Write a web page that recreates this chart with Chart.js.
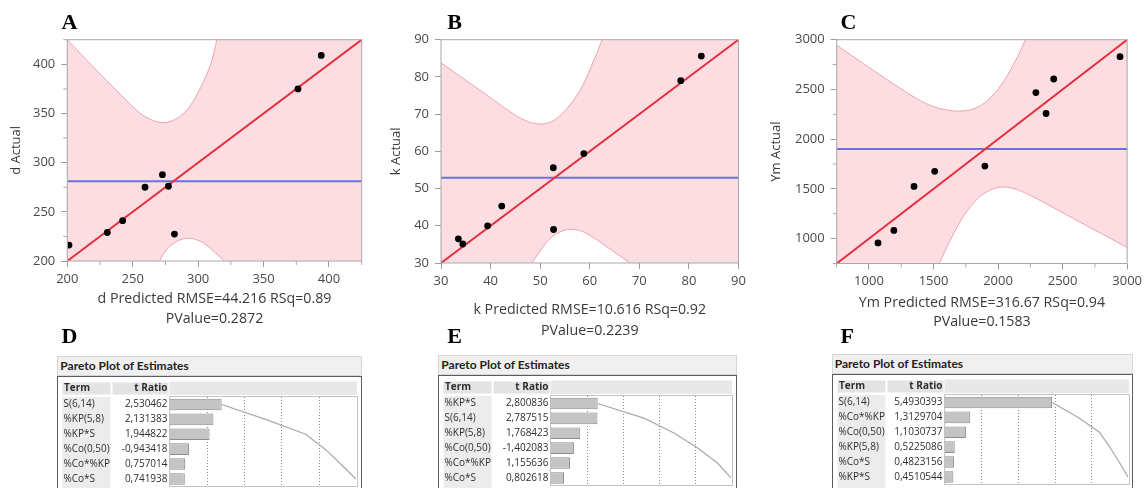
<!DOCTYPE html>
<html>
<head>
<meta charset="utf-8">
<script src="https://cdn.jsdelivr.net/npm/chart.js@4.4.1/dist/chart.umd.min.js"></script>
<style>
  html, body { margin: 0; padding: 0; background: #fff; }
  body { width: 1146px; height: 488px; position: relative; overflow: hidden; font-family: "Open Sans", "Noto Sans", sans-serif; }
  canvas { position: absolute; }
  .letter { position: absolute; font-family: "Liberation Serif", "Times New Roman", serif; font-weight: bold; font-size: 22px; line-height: 22px; color: #000; }
  .phead { position: absolute; box-sizing: border-box; height: 20px; background: #f0f0f0; border: 1px solid #d6d6d6; font-family: Lato, "Open Sans", sans-serif; font-weight: bold; font-size: 12px; line-height: 18px; padding-left: 2px; color: #222; white-space: nowrap; }
  .pbox { position: absolute; box-sizing: border-box; height: 140px; border: 1px solid #5c5c5c; border-bottom: none; }
</style>
</head>
<body>
<script>
// ---------- Actual by predicted: d ----------
const dPredicted = [201.3, 230.6, 242.3, 259.4, 272.7, 277.3, 281.9, 376.3, 394.1];
const dActual    = [216.2, 229.0, 241.0, 275.0, 287.8, 276.0, 227.4, 375.0, 409.0];
const dMean = 281;
const dUpperX = [200, 215, 230, 245, 255, 262, 268, 274, 280, 287, 294, 300, 306, 310.5, 314.3];
const dUpperY = [425, 404, 383.5, 363.5, 351, 345, 341.8, 340.7, 342.5, 348, 358, 371.5, 388, 404, 425];
const dLowerX = [270.5, 274, 279, 285, 292, 299, 306, 313, 320];
const dLowerY = [200, 208, 215.5, 220.8, 223, 221.5, 216.5, 208.5, 200];
const dRange = [200, 425];
const dTicks = [200, 250, 300, 350, 400];
const dMinorTicks = [225, 275, 325, 375, 425];

// ---------- Actual by predicted: k ----------
const kPredicted = [33.5, 34.4, 39.4, 42.25, 52.65, 52.7, 58.8, 78.35, 82.5];
const kActual    = [36.5, 35.1, 40.0, 45.3, 55.6, 39.0, 59.4, 79.0, 85.6];
const kMean = 52.9;
const kUpperX = [30, 35, 40, 44, 47, 49.5, 51.5, 53.5, 56, 58.5, 61, 62.5];
const kUpperY = [83.8, 79.1, 74.4, 70.6, 68.3, 67.4, 67.6, 69.0, 72.5, 77.5, 85.0, 90];
const kLowerX = [48.3, 50, 52, 54.5, 56.5, 59, 63.5, 68.1];
const kLowerY = [30, 33.2, 36.6, 38.6, 39.0, 38.2, 34.3, 30];
const kRange = [30, 90];
const kTicks = [30, 40, 50, 60, 70, 80, 90];
const kMinorTicks = [];

// ---------- Actual by predicted: Ym ----------
const ymPredicted = [1070, 1193, 1349, 1509, 1898, 2293, 2372, 2431, 2945];
const ymActual    = [957, 1083, 1525, 1677, 1729, 2468, 2258, 2605, 2829];
const ymMean = 1902;
const ymUpperX = [750, 864, 990, 1116, 1242, 1368, 1494, 1620, 1721, 1822, 1923, 2024, 2125, 2213];
const ymUpperY = [2945, 2843, 2731, 2620, 2512, 2410, 2330, 2291, 2284, 2311, 2395, 2546, 2764, 3000];
const ymLowerX = [1545, 1600, 1660, 1720, 1780, 1840, 1900, 1960, 2024, 2090, 2160, 2251, 2428, 2629, 2831, 3000];
const ymLowerY = [750, 905, 1060, 1200, 1310, 1400, 1462, 1498, 1517, 1512, 1486, 1434, 1312, 1170, 1030, 910];
const ymRange = [750, 3000];
const ymTicks = [1000, 1500, 2000, 2500, 3000];
const ymMinorTicks = [750, 1250, 1750, 2250, 2750];

// ---------- Pareto plots of estimates ----------
const dTerms  = ['S(6,14)', '%KP(5,8)', '%KP*S', '%Co(0,50)', '%Co*%KP', '%Co*S'];
const dTRatio = [2.530462, 2.131383, 1.944822, -0.943418, 0.757014, 0.741938];
const kTerms  = ['%KP*S', 'S(6,14)', '%KP(5,8)', '%Co(0,50)', '%Co*%KP', '%Co*S'];
const kTRatio = [2.800836, 2.787515, 1.768423, -1.402083, 1.155636, 0.802618];
const ymTerms  = ['S(6,14)', '%Co*%KP', '%Co(0,50)', '%KP(5,8)', '%Co*S', '%KP*S'];
const ymTRatio = [5.4930393, 1.3129704, 1.1030737, 0.5225086, 0.4823156, 0.4510544];
const paretoGuides = [20, 40, 60, 80];   // cumulative-percent reference lines

Chart.defaults.font.family = '"Open Sans", "Noto Sans", sans-serif';
Chart.defaults.color = '#4a4a4a';

const xy = (xs, ys) => xs.map((x, i) => ({ x, y: ys[i] }));

function fitPanel(o) {
  const cv = document.createElement('canvas');
  cv.width = o.w; cv.height = o.h;
  cv.style.left = o.left + 'px'; cv.style.top = '0px';
  document.body.appendChild(cv);
  const [lo, hi] = o.range;

  const plotFrame = {
    id: 'plotFrame',
    beforeDatasetsDraw(c) {
      const { ctx, chartArea: a } = c;
      ctx.save();
      ctx.fillStyle = '#fcdde1';
      ctx.fillRect(a.left, a.top, a.right - a.left, a.bottom - a.top);
      ctx.restore();
    },
    afterDatasetsDraw(c) {
      const { ctx, chartArea: a, scales } = c;
      ctx.save();
      ctx.strokeStyle = '#a8a8a8';
      ctx.lineWidth = 1;
      ctx.strokeRect(a.left, a.top, a.right - a.left, a.bottom - a.top);
      ctx.beginPath();
      o.minor.forEach(v => {
        const px = scales.x.getPixelForValue(v);
        const py = scales.y.getPixelForValue(v);
        ctx.moveTo(px, a.bottom); ctx.lineTo(px, a.bottom + 4);
        ctx.moveTo(a.left - 4, py); ctx.lineTo(a.left, py);
      });
      ctx.stroke();
      ctx.restore();
    }
  };

  const axisBase = (ticks) => ({
    type: 'linear', min: lo, max: hi,
    afterBuildTicks: s => { s.ticks = ticks.map(v => ({ value: v })); },
    ticks: { font: { size: 13 }, color: '#4a4a4a', padding: 4, autoSkip: false, maxRotation: 0, callback: v => String(v) },
    grid: { drawOnChartArea: false, tickLength: 6, color: '#9c9c9c' },
    border: { display: false }
  });

  const xAxis = axisBase(o.ticks);
  xAxis.afterFit = s => { s.height = o.h - o.plotB; };
  xAxis.title = { display: true, text: o.xTitle, color: '#3a3a3a',
                  font: { size: 14.2, lineHeight: o.titleLH + 'px' }, padding: { top: 0, bottom: o.titlePB } };
  const yAxis = axisBase(o.ticks);
  yAxis.ticks.padding = 6;
  yAxis.afterFit = s => { s.width = o.plotL - o.left; };
  yAxis.title = { display: true, text: o.yTitle, color: '#3a3a3a', font: { size: 13 }, padding: { top: 8, bottom: 0 } };

  const curve = { borderColor: '#eea3ad', borderWidth: 1, pointRadius: 0, tension: 0.4, backgroundColor: '#ffffff' };

  new Chart(cv, {
    type: 'line',
    data: {
      datasets: [
        { label: 'Observed', data: xy(o.pred, o.actual), showLine: false, pointRadius: 3.4, pointHoverRadius: 3.4,
          pointBackgroundColor: '#000', pointBorderColor: '#000', pointBorderWidth: 0 },
        { label: 'Fit', data: [{ x: lo, y: lo }, { x: hi, y: hi }], borderColor: '#e4303f', borderWidth: 2, pointRadius: 0 },
        { label: 'Mean', data: [{ x: lo, y: o.mean }, { x: hi, y: o.mean }], borderColor: '#6d71df', borderWidth: 2, pointRadius: 0 },
        Object.assign({ label: 'Upper confidence curve', data: xy(o.upX, o.upY), fill: 'end' }, curve),
        Object.assign({ label: 'Lower confidence curve', data: xy(o.loX, o.loY), fill: 'start' }, curve)
      ]
    },
    options: {
      responsive: false, animation: false, devicePixelRatio: 1,
      layout: { padding: { top: o.plotT, right: o.w - (o.plotR - o.left), left: 0, bottom: 0 } },
      plugins: { legend: { display: false }, tooltip: { enabled: false } },
      scales: { x: xAxis, y: yAxis }
    },
    plugins: [plotFrame]
  });
}

function paretoPanel(o) {
  const W = o.boxR - o.boxL, top = o.headTop + 20, H = 120;
  const rowPitch = 14.9;

  const head = document.createElement('div');
  head.className = 'phead';
  head.style.left = o.boxL + 'px'; head.style.top = o.headTop + 'px'; head.style.width = W + 'px';
  head.textContent = 'Pareto Plot of Estimates';
  document.body.appendChild(head);

  const box = document.createElement('div');
  box.className = 'pbox';
  box.style.left = o.boxL + 'px'; box.style.top = top + 'px'; box.style.width = W + 'px';
  document.body.appendChild(box);

  const cv = document.createElement('canvas');
  cv.width = W; cv.height = H;
  cv.style.left = o.boxL + 'px'; cv.style.top = top + 'px';
  document.body.appendChild(cv);

  const mag = o.tRatio.map(v => Math.abs(v));
  const total = mag.reduce((s, v) => s + v, 0);
  let run = 0;
  const cumPct = mag.map(v => (run += v) / total * 100);
  const fmt = v => String(v).replace('.', ',');

  const table = {
    id: 'estimatesTable',
    beforeDatasetsDraw(c) {
      const { ctx, chartArea: a, scales } = c;
      ctx.save();
      ctx.fillStyle = '#e3e3e3';
      ctx.fillRect(5.5, 6.5, 48, 12);
      ctx.fillRect(55.5, 6.5, 56, 12);
      ctx.fillStyle = '#e8e8e8';
      ctx.fillRect(a.left, 5.5, a.right - a.left + 1, 13.5);
      ctx.fillStyle = '#ececec';
      ctx.fillRect(5.5, a.top, 48, H - a.top);
      ctx.strokeStyle = '#8a8a8a';
      ctx.lineWidth = 1;
      ctx.setLineDash([1, 2]);
      ctx.beginPath();
      paretoGuides.forEach(p => {
        const px = Math.round(scales.xp.getPixelForValue(p)) + 0.5;
        ctx.moveTo(px, a.top); ctx.lineTo(px, a.bottom);
      });
      ctx.stroke();
      ctx.restore();
    },
    afterDatasetsDraw(c) {
      const { ctx, chartArea: a, scales } = c;
      ctx.save();
      ctx.strokeStyle = '#c2c2c2';
      ctx.lineWidth = 1;
      ctx.strokeRect(Math.round(a.left) - 0.5, Math.round(a.top) - 0.5, Math.round(a.right - a.left) + 1, Math.round(a.bottom - a.top) + 1);
      ctx.fillStyle = '#2e2e2e';
      ctx.textBaseline = 'middle';
      ctx.font = 'bold 10px "Open Sans"';
      ctx.textAlign = 'left';
      ctx.fillText('Term', 7, 12.5);
      ctx.textAlign = 'right';
      ctx.fillText('t Ratio', 110.5, 12.5);
      ctx.font = '10px "Open Sans"';
      o.terms.forEach((t, i) => {
        const y = scales.y.getPixelForValue(i);
        ctx.textAlign = 'left';
        ctx.fillText(t, 6.5, y);
        ctx.textAlign = 'right';
        ctx.fillText(fmt(o.tRatio[i]), 110.5, y);
      });
      ctx.restore();
    }
  };

  new Chart(cv, {
    type: 'bar',
    data: {
      labels: o.terms,
      datasets: [
        { type: 'line', label: 'Cumulative', data: cumPct, xAxisID: 'xp', yAxisID: 'y', indexAxis: 'y',
          borderColor: '#a9a9a9', borderWidth: 1.2, pointRadius: 0, fill: false },
        { type: 'bar', label: '|t Ratio|', data: mag, xAxisID: 'x', yAxisID: 'y',
          backgroundColor: '#c4c4c4', borderColor: '#8d8d8d', borderWidth: 1, borderSkipped: false,
          barPercentage: 0.78, categoryPercentage: 1 }
      ]
    },
    options: {
      indexAxis: 'y', responsive: false, animation: false, devicePixelRatio: 1,
      layout: { padding: { left: 112.5, right: 5, top: 21, bottom: H - 21 - rowPitch * o.terms.length } },
      plugins: { legend: { display: false }, tooltip: { enabled: false } },
      scales: {
        y: { type: 'category', display: false, offset: true },
        x: { type: 'linear', axis: 'x', display: false, min: 0, max: total },
        xp: { type: 'linear', axis: 'x', display: false, min: 0, max: 100 }
      }
    },
    plugins: [table]
  });
}

fitPanel({ left: 0, w: 380, h: 345, plotL: 67.3, plotR: 361.7, plotT: 39.7, plotB: 261,
  range: dRange, ticks: dTicks, minor: dMinorTicks, pred: dPredicted, actual: dActual, mean: dMean,
  upX: dUpperX, upY: dUpperY, loX: dLowerX, loY: dLowerY,
  xTitle: ['d Predicted RMSE=44.216 RSq=0.89', 'PValue=0.2872'], yTitle: 'd Actual', titleLH: 20, titlePB: 15.7 });

fitPanel({ left: 380, w: 380, h: 345, plotL: 441, plotR: 738.5, plotT: 39.7, plotB: 263,
  range: kRange, ticks: kTicks, minor: kMinorTicks, pred: kPredicted, actual: kActual, mean: kMean,
  upX: kUpperX, upY: kUpperY, loX: kLowerX, loY: kLowerY,
  xTitle: ['k Predicted RMSE=10.616 RSq=0.92', 'PValue=0.2239'], yTitle: 'k Actual', titleLH: 20.7, titlePB: 4 });

fitPanel({ left: 760, w: 386, h: 345, plotL: 836.7, plotR: 1134, plotT: 39.7, plotB: 263.5,
  range: ymRange, ticks: ymTicks, minor: ymMinorTicks, pred: ymPredicted, actual: ymActual, mean: ymMean,
  upX: ymUpperX, upY: ymUpperY, loX: ymLowerX, loY: ymLowerY,
  xTitle: ['Ym Predicted RMSE=316.67 RSq=0.94', 'PValue=0.1583'], yTitle: 'Ym Actual', titleLH: 18.4, titlePB: 14.1 });

paretoPanel({ boxL: 57.3, boxR: 361.7, headTop: 356, terms: dTerms, tRatio: dTRatio });
paretoPanel({ boxL: 438.3, boxR: 736.7, headTop: 355, terms: kTerms, tRatio: kTRatio });
paretoPanel({ boxL: 831.7, boxR: 1132.7, headTop: 354, terms: ymTerms, tRatio: ymTRatio });

// panel letters
[['A', 61.5, 10.9], ['B', 447.3, 10.9], ['C', 840.5, 10.9],
 ['D', 61.5, 325], ['E', 447.3, 325], ['F', 840.5, 325]].forEach(([t, x, y]) => {
  const el = document.createElement('div');
  el.className = 'letter';
  el.style.left = x + 'px'; el.style.top = y + 'px';
  el.textContent = t;
  document.body.appendChild(el);
});
</script>
</body>
</html>
